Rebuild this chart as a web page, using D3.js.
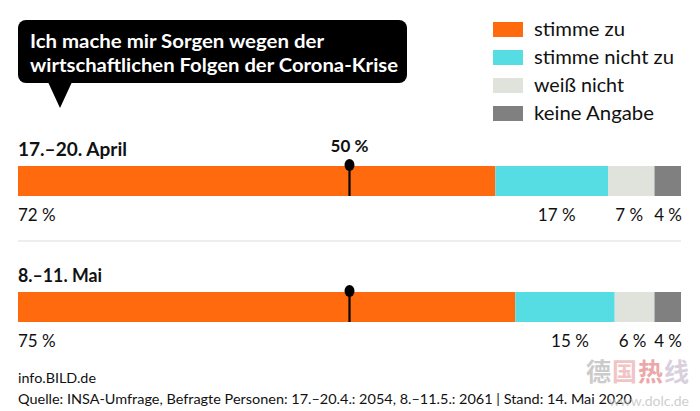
<!DOCTYPE html>
<html><head><meta charset="utf-8">
<script src="https://cdn.jsdelivr.net/npm/d3@7"></script>
<style>body{margin:0;background:#fff}svg{display:block}</style>
</head><body><svg id="c" width="700" height="411"></svg>
<script>
const categories = ["stimme zu","stimme nicht zu","weiß nicht","keine Angabe"];
const colors = ["#FF6A0E","#56DDE3","#E0E2DC","#808080"];
const periods = ["17.–20. April","8.–11. Mai"];
const values = [[72,17,7,4],[75,15,6,4]];
const markerValue = 50;
const titleLines = ["Ich mache mir Sorgen wegen der","wirtschaftlichen Folgen der Corona-Krise"];
const footer1 = "info.BILD.de";
const footer2 = "Quelle: INSA-Umfrage, Befragte Personen: 17.–20.4.: 2054, 8.–11.5.: 2061 | Stand: 14. Mai 2020";

const svg = d3.select("#c");
const F = "Lato, 'Open Sans', sans-serif";
const x = d3.scaleLinear().domain([0,100]).range([18,681]);
const rowY = d3.scalePoint().domain(periods).range([166,292]);
const barH = 30;

// callout
svg.append("rect").attr("x",18).attr("y",20).attr("width",389).attr("height",63).attr("rx",8).attr("fill","#000");
svg.append("path").attr("d","M48,82 L72,82 L60,108 Z").attr("fill","#000");
titleLines.forEach((t,i)=>{
  svg.append("text").attr("x",30).attr("y",48+i*24).text(t)
    .attr("font-family",F).attr("font-weight",700).attr("font-size",19).attr("fill","#fff")
    .attr("textLength", i===0?294:368).attr("lengthAdjust","spacingAndGlyphs");
});

// legend
const legW=[91,140,90,120];
categories.forEach((c,i)=>{
  svg.append("rect").attr("x",493).attr("y",22+i*28).attr("width",30).attr("height",15).attr("fill",colors[i]);
  svg.append("text").attr("x",534).attr("y",36+i*28).text(c).attr("font-family",F).attr("font-size",19).attr("fill","#111")
    .attr("textLength",legW[i]).attr("lengthAdjust","spacingAndGlyphs");
});

// rows
const rowTitleW=[109,84];
const labelShift=[0,5,-2,0];
periods.forEach((p,r)=>{
  const y0 = rowY(p);
  svg.append("text").attr("x",18).attr("y",y0-10).text(p).attr("font-family",F).attr("font-weight",700)
    .attr("font-size",18).attr("fill","#111")
    .attr("textLength",rowTitleW[r]).attr("lengthAdjust","spacingAndGlyphs");
  let cum=0;
  const segs = values[r].map((v,i)=>{const s={v,i,a:cum,b:cum+v};cum+=v;return s;});
  svg.selectAll(null).data(segs).enter().append("rect")
    .attr("x",d=>x(d.a)).attr("y",y0).attr("width",d=>x(d.b)-x(d.a)).attr("height",barH)
    .attr("fill",d=>colors[d.i]);
  svg.selectAll(null).data(segs).enter().append("text")
    .attr("x",d=>d.i===0?x(d.a):(d.i===segs.length-1?x(d.b)+1:(x(d.a)+x(d.b))/2+labelShift[d.i]))
    .attr("text-anchor",d=>d.i===0?"start":(d.i===segs.length-1?"end":"middle"))
    .attr("y",y0+barH+25).text(d=>d.v+" %")
    .attr("font-family",F).attr("font-size",17).attr("fill","#111");
  // marker
  const mx = x(markerValue);
  svg.append("line").attr("x1",mx).attr("x2",mx).attr("y1",y0).attr("y2",y0+barH).attr("stroke","#000").attr("stroke-width",2.2);
  svg.append("ellipse").attr("cx",mx).attr("cy",y0-1).attr("rx",5).attr("ry",6).attr("fill","#000");
  if(r===0){
    svg.append("text").attr("x",mx).attr("y",y0-14).attr("text-anchor","middle").text(markerValue+" %")
      .attr("font-family",F).attr("font-weight",700).attr("font-size",17).attr("fill","#111");
  }
});
// separator
svg.append("line").attr("x1",18).attr("x2",681).attr("y1",241).attr("y2",241).attr("stroke","#ddd").attr("stroke-width",1);

// footer
svg.append("text").attr("x",18).attr("y",383).text(footer1).attr("font-family",F).attr("font-size",13).attr("fill","#111")
  .attr("textLength",78).attr("lengthAdjust","spacingAndGlyphs");
svg.append("text").attr("x",18).attr("y",404).text(footer2).attr("font-family",F).attr("font-size",13).attr("fill","#111")
  .attr("textLength",614).attr("lengthAdjust","spacingAndGlyphs");
// watermark
const wm=[["德","#aaa"],["国","#e8a0a0"],["热","#e07070"],["线","#c0b0c8"]];
wm.forEach((w,i)=>{
  svg.append("text").attr("x",586+i*26).attr("y",381).text(w[0]).attr("font-family","'Noto Sans CJK SC'").attr("font-weight",700)
    .attr("font-size",25).attr("fill",w[1]).attr("opacity",0.6);
});
svg.append("text").attr("x",689).attr("y",406).attr("text-anchor","end").text("www.dolc.de").attr("font-family",F)
  .attr("font-size",14).attr("fill","#bbb").attr("opacity",0.7);
</script></body></html>
